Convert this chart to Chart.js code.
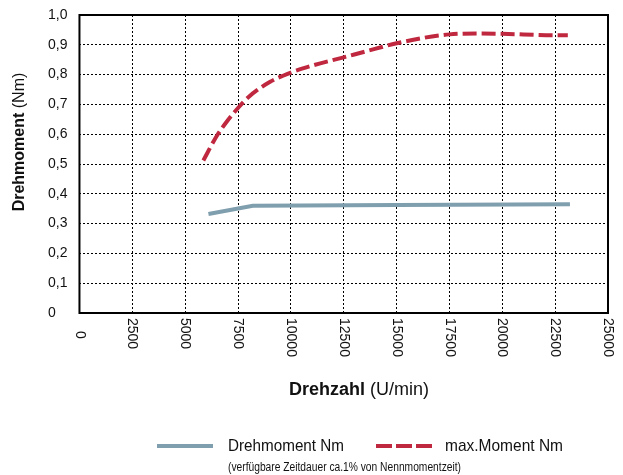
<!DOCTYPE html>
<html><head><meta charset="utf-8">
<script src="https://cdn.jsdelivr.net/npm/chart.js@4"></script>
<style>html,body{margin:0;padding:0;background:#fff}#wrap{width:623px;height:475px}</style>
</head><body><div id="wrap"><canvas id="c" width="623" height="475"></canvas></div>
<script>
// Data
const maxSpeed = [5860, 6500, 7000, 7500, 8000, 9000, 10000, 11000, 12500, 13500, 15000, 17500, 19000, 20000, 22500, 23100];
const maxTorque = [0.512, 0.595, 0.645, 0.688, 0.725, 0.775, 0.807, 0.83, 0.858, 0.877, 0.905, 0.935, 0.938, 0.937, 0.932, 0.932];
const ratedSpeed = [6100, 8200, 15000, 23200];
const ratedTorque = [0.332, 0.36, 0.362, 0.365];
const xTicks = [0, 2500, 5000, 7500, 10000, 12500, 15000, 17500, 20000, 22500, 25000];
const yTicks = [0, 0.1, 0.2, 0.3, 0.4, 0.5, 0.6, 0.7, 0.8, 0.9, 1.0];
const seriesNames = ['Drehmoment Nm', 'max.Moment Nm'];
const xTitleBold = 'Drehzahl', xTitleRest = ' (U/min)';
const yTitleBold = 'Drehmoment', yTitleRest = ' (Nm)';
const note = '(verfügbare Zeitdauer ca.1% von Nennmomentzeit)';

const BLUE = '#7f9fae', RED = '#c0283f';

function narrowText(ctx, text, x, y, width) {
  const w = ctx.measureText(text).width;
  ctx.save(); ctx.translate(x, y); ctx.scale(width / w, 1);
  ctx.fillText(text, 0, 0); ctx.restore();
}

const custom = {
  id: 'custom',
  afterDraw(chart) {
    const ctx = chart.ctx, a = chart.chartArea, xs = chart.scales.x;
    ctx.save();
    // frame
    ctx.strokeStyle = '#000'; ctx.lineWidth = 2; ctx.setLineDash([]);
    ctx.strokeRect(a.left, a.top, a.right - a.left, a.bottom - a.top);
    // x tick labels rotated clockwise
    ctx.fillStyle = '#111'; ctx.font = '14px "Liberation Sans", Arial, sans-serif';
    ctx.textAlign = 'left'; ctx.textBaseline = 'middle';
    xTicks.forEach(v => {
      const px = xs.getPixelForValue(v);
      ctx.save();
      ctx.translate(px, a.bottom + (v === 0 ? 18 : 5));
      ctx.rotate(Math.PI / 2);
      ctx.fillText(String(v), 0, 0);
      ctx.restore();
    });
    // x title
    const fb = 'bold 18px "Liberation Sans", Arial, sans-serif', fn = '18px "Liberation Sans", Arial, sans-serif';
    ctx.font = fb; const wb = ctx.measureText(xTitleBold).width;
    ctx.font = fn; const wn = ctx.measureText(xTitleRest).width;
    let sx = 359 - (wb + wn) / 2;
    ctx.font = fb; ctx.fillText(xTitleBold, sx, 390);
    ctx.font = fn; ctx.fillText(xTitleRest, sx + wb, 390);
    // y title
    const yb = 'bold 16px "Liberation Sans", Arial, sans-serif', yn = '16px "Liberation Sans", Arial, sans-serif';
    ctx.font = yb; const yw1 = ctx.measureText(yTitleBold).width;
    ctx.font = yn; const yw2 = ctx.measureText(yTitleRest).width;
    ctx.save(); ctx.translate(20, 142); ctx.rotate(-Math.PI / 2);
    const sy = -(yw1 + yw2) / 2;
    ctx.font = yb; ctx.fillText(yTitleBold, sy, 0);
    ctx.font = yn; ctx.fillText(yTitleRest, sy + yw1, 0);
    ctx.restore();
    // legend
    const ds = chart.data.datasets;
    ctx.lineWidth = 4;
    ctx.strokeStyle = ds[0].borderColor; ctx.setLineDash([]);
    ctx.beginPath(); ctx.moveTo(157, 446); ctx.lineTo(213, 446); ctx.stroke();
    ctx.strokeStyle = ds[1].borderColor; ctx.setLineDash([16, 4]);
    ctx.beginPath(); ctx.moveTo(376, 446); ctx.lineTo(432, 446); ctx.stroke();
    ctx.setLineDash([]);
    ctx.fillStyle = '#111';
    ctx.font = '17px "Liberation Sans", Arial, sans-serif';
    narrowText(ctx, ds[0].label, 228, 446, 116);
    narrowText(ctx, ds[1].label, 445, 446, 118);
    ctx.font = '12px "Liberation Sans", Arial, sans-serif';
    narrowText(ctx, note, 228, 468, 233);
    ctx.restore();
  }
};

new Chart(document.getElementById('c'), {
  type: 'line',
  data: {
    datasets: [
      { label: seriesNames[0], data: ratedSpeed.map((x, i) => ({ x, y: ratedTorque[i] })),
        borderColor: BLUE, borderWidth: 4, pointRadius: 0, tension: 0, fill: false },
      { label: seriesNames[1], data: maxSpeed.map((x, i) => ({ x, y: maxTorque[i] })),
        borderColor: RED, borderWidth: 4, borderDash: [14, 5], pointRadius: 0,
        cubicInterpolationMode: 'monotone', fill: false }
    ]
  },
  options: {
    responsive: false, animation: false, devicePixelRatio: 1,
    layout: { padding: { left: 48, top: 15, right: 15, bottom: 162 } },
    plugins: { legend: { display: false }, tooltip: { enabled: false } },
    scales: {
      x: { type: 'linear', min: 0, max: 25000,
        afterBuildTicks: s => { s.ticks = xTicks.map(v => ({ value: v })); },
        ticks: { display: false },
        grid: { color: '#000', lineWidth: 1, drawTicks: false },
        border: { display: false, dash: [2, 2] } },
      y: { type: 'linear', min: 0, max: 1,
        afterBuildTicks: s => { s.ticks = yTicks.map(v => ({ value: v })); },
        ticks: { color: '#111', font: { family: '"Liberation Sans", Arial, sans-serif', size: 14 }, padding: 6,
          crossAlign: 'far', callback: v => v === 0 ? '0' : v.toFixed(1).replace('.', ',') },
        grid: { color: '#000', lineWidth: 1, drawTicks: false },
        border: { display: false, dash: [2, 2] } }
    }
  },
  plugins: [custom]
});
</script></body></html>
